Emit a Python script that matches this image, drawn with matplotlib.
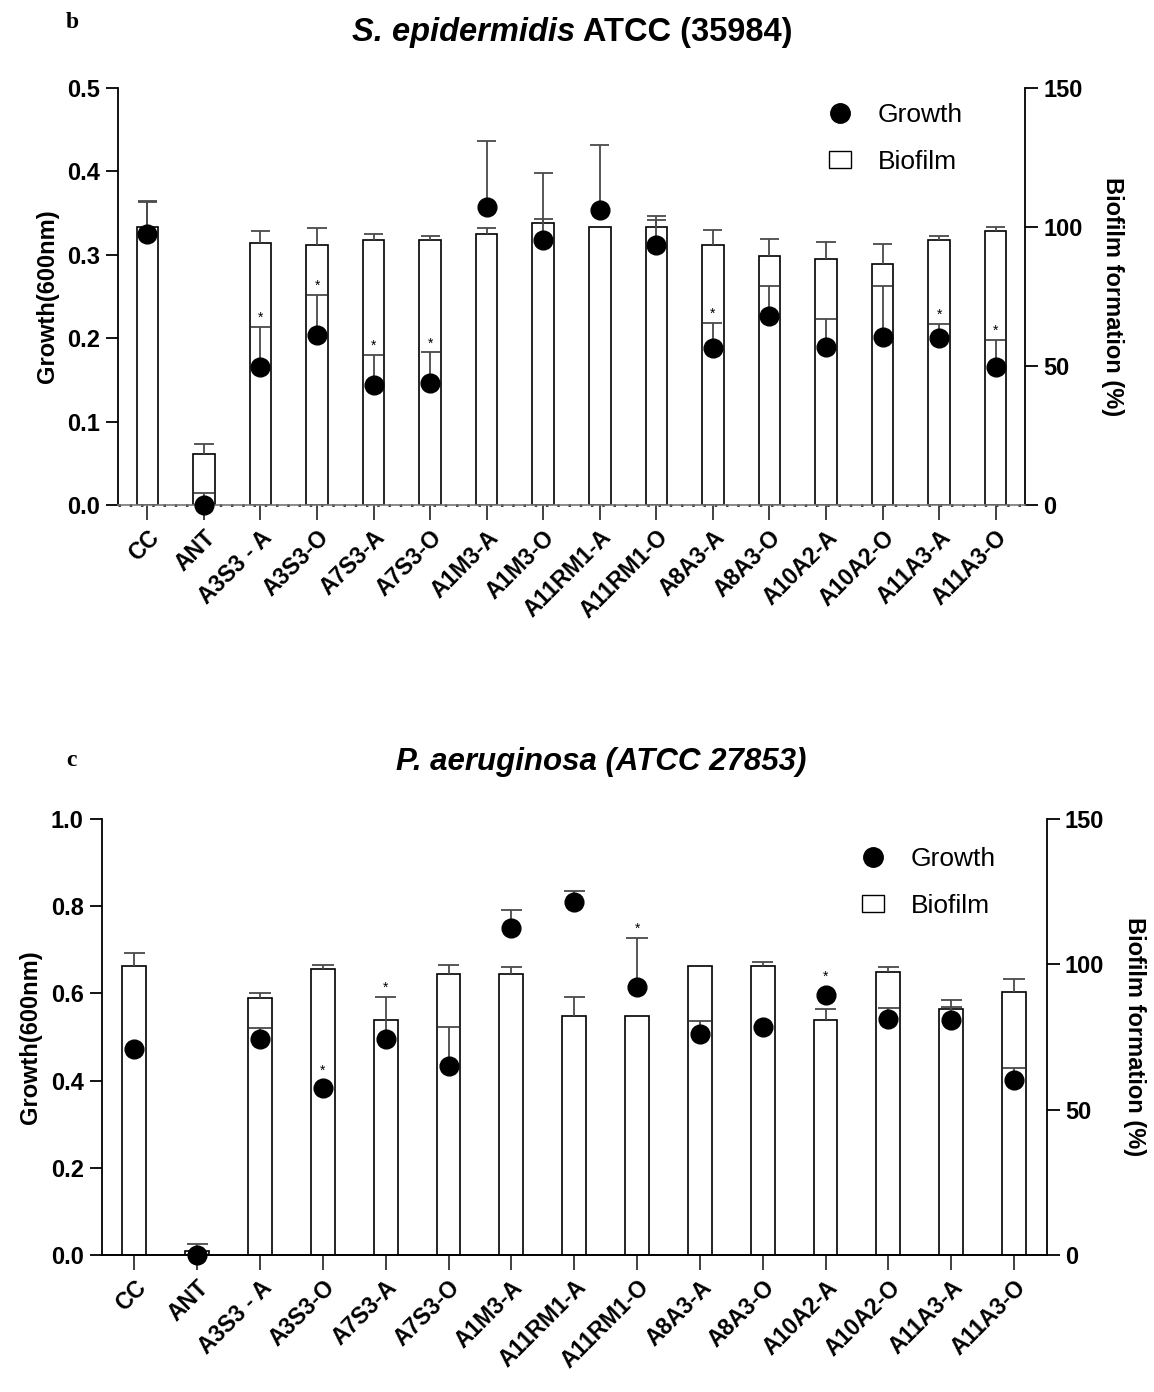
import matplotlib
matplotlib.use('Agg')
import matplotlib.pyplot as plt
import numpy as np
from matplotlib.lines import Line2D
from matplotlib.patches import Patch

plt.rcParams['font.family'] = ['Liberation Sans', 'DejaVu Sans']

# panel b - S. epidermidis ATCC (35984)
labels_b = ['CC', 'ANT', 'A3S3 - A', 'A3S3-O', 'A7S3-A', 'A7S3-O', 'A1M3-A', 'A1M3-O',
            'A11RM1-A', 'A11RM1-O', 'A8A3-A', 'A8A3-O', 'A10A2-A', 'A10A2-O', 'A11A3-A', 'A11A3-O']
growth_b = [0.325, 0.0, 0.165, 0.204, 0.144, 0.146, 0.357, 0.318,
            0.354, 0.312, 0.188, 0.227, 0.190, 0.202, 0.200, 0.166]
growth_err_b = [0.040, 0.014, 0.048, 0.048, 0.036, 0.037, 0.080, 0.080,
                0.078, 0.030, 0.030, 0.035, 0.033, 0.061, 0.017, 0.032]
biofilm_b = [100, 18.3, 94.2, 93.5, 95.3, 95.3, 97.4, 101.6,
             100, 100, 93.5, 89.5, 88.6, 86.7, 95.4, 98.4]
biofilm_err_b = [9, 3.7, 4.3, 6, 2.3, 1.3, 2.4, 1.2,
                 0, 4, 5.3, 6.3, 6.1, 7.2, 1.5, 1.6]
stars_b = [0, 0, 1, 1, 1, 1, 0, 0, 0, 0, 1, 0, 0, 0, 1, 1]

# panel c - P. aeruginosa (ATCC 27853)
labels_c = ['CC', 'ANT', 'A3S3 - A', 'A3S3-O', 'A7S3-A', 'A7S3-O', 'A1M3-A',
            'A11RM1-A', 'A11RM1-O', 'A8A3-A', 'A8A3-O', 'A10A2-A', 'A10A2-O', 'A11A3-A', 'A11A3-O']
growth_c = [0.473, 0.0, 0.495, 0.382, 0.495, 0.433, 0.751,
            0.809, 0.614, 0.507, 0.523, 0.596, 0.541, 0.538, 0.401]
growth_err_c = [0, 0, 0.025, 0, 0.097, 0.090, 0.040,
                0.027, 0.113, 0.029, 0, 0, 0.025, 0.030, 0.029]
biofilm_c = [99.5, 1.5, 88.5, 98.5, 80.8, 96.7, 96.7,
             82.3, 82.3, 99.5, 99.5, 80.7, 97.5, 84.5, 90.6]
biofilm_err_c = [4.4, 2.3, 1.5, 1.4, 0, 3.2, 2.3,
                 6.5, 0, 0, 1.4, 4.1, 1.5, 3.2, 4.2]
stars_c = [0, 0, 0, 1, 1, 0, 0, 0, 1, 0, 0, 1, 0, 0, 0]

W, H = 1154, 1392
fig = plt.figure(figsize=(W / 100, H / 100), dpi=100)
ERR_COLOR = '#4a4a4a'


def upper_err(ax, x, y, err, half=0.17):
    x, y, err = np.asarray(x, float), np.asarray(y, float), np.asarray(err, float)
    m = err > 0
    ax.vlines(x[m], y[m], y[m] + err[m], color=ERR_COLOR, linewidth=1.3, zorder=3)
    ax.hlines(y[m] + err[m], x[m] - half, x[m] + half, color=ERR_COLOR, linewidth=1.3, zorder=3)


def title_parts(cx, y, parts, size):
    # parts: list of (text, style); centred as a whole around cx (pixels)
    r = fig.canvas.get_renderer()
    objs = [fig.text(0, y, t, fontsize=size, fontweight='bold', fontstyle=st, va='center')
            for t, st in parts]
    widths = [o.get_window_extent(r).width for o in objs]
    x0 = cx - sum(widths) / 2
    for o, w in zip(objs, widths):
        o.set_x(x0 / W)
        x0 += w


def panel(rect, labels, growth, gerr, bio, berr, stars, gmax, gticks,
          title, title_pos, title_size, letter, letter_y, leg_xy, dotted):
    ax = fig.add_axes(rect)
    ax2 = ax.twinx()
    x = np.arange(len(labels))
    # biofilm bars on the right axis
    ax2.bar(x, bio, width=0.38, color='white', edgecolor='black', linewidth=1.2, zorder=2)
    upper_err(ax2, x, bio, berr)
    ax2.set_ylim(0, 150)
    ax2.set_yticks([0, 50, 100, 150])
    # growth dots on the left axis
    upper_err(ax, x, growth, gerr)
    ax.plot(x, growth, 'o', color='black', markersize=13.5, zorder=4, clip_on=False)
    for i, s in enumerate(stars):
        if s:
            off = 1.5 if gerr[i] > 0 else 8
            ax.annotate('*', (x[i], growth[i] + gerr[i]), xytext=(0, off),
                        textcoords='offset points', ha='center', va='bottom', fontsize=10)
    ax.set_zorder(ax2.get_zorder() + 1)
    ax.patch.set_visible(False)
    ax.set_xlim(-0.52, len(labels) - 0.48)
    ax.set_ylim(0, gmax)
    ax.set_yticks(gticks)
    ax.set_yticklabels(['{:.1f}'.format(t) for t in gticks])
    ax.set_xticks(x)
    ax.set_xticklabels(labels, rotation=45, ha='right', rotation_mode='anchor')
    for a in (ax, ax2):
        a.spines['top'].set_visible(False)
        a.tick_params(axis='y', width=1.3, length=9, labelsize=17, pad=4)
        for lab in a.get_yticklabels() + a.get_xticklabels():
            lab.set_fontweight('bold')
    ax.tick_params(axis='x', width=1.3, length=11, labelsize=16.5, pad=4, color='#333333')
    ax.spines['right'].set_visible(False)
    ax2.spines['left'].set_visible(False)
    ax2.spines['bottom'].set_visible(False)
    ax.spines['left'].set_linewidth(1.3)
    ax2.spines['right'].set_linewidth(1.3)
    if dotted:
        ax.spines['bottom'].set_color('#777777')
        ax.spines['bottom'].set_linewidth(1.2)
        ax.axhline(0, color='black', linewidth=1.8, linestyle=(0, (1, 3.5)), zorder=1, clip_on=False)
    else:
        ax.spines['bottom'].set_linewidth(1.4)
    ax.set_ylabel('Growth(600nm)', fontsize=17, fontweight='bold', labelpad=6)
    ax2.set_ylabel('Biofilm formation (%)', fontsize=17, fontweight='bold', rotation=270, labelpad=30)
    title_parts(title_pos[0], title_pos[1], title, title_size)
    fig.text(0.057, letter_y, letter, fontsize=17, fontweight='bold', family='Liberation Serif',
             ha='left', va='center')
    handles = [Line2D([], [], marker='o', color='black', linestyle='none', markersize=14),
               Patch(facecolor='white', edgecolor='black', linewidth=1.0)]
    fig.legend(handles, ['Growth', 'Biofilm'], loc='upper left', bbox_to_anchor=leg_xy,
               frameon=False, fontsize=19, handlelength=0.85, handleheight=0.6,
               handletextpad=1.0, labelspacing=0.87, borderpad=0, borderaxespad=0)
    return ax, ax2


panel([118 / W, 1 - 505 / H, (1025 - 118) / W, (505 - 88) / H],
      labels_b, growth_b, growth_err_b, biofilm_b, biofilm_err_b, stars_b,
      0.5, [0.0, 0.1, 0.2, 0.3, 0.4, 0.5],
      [('S. epidermidis', 'italic'), (' ATCC (35984)', 'normal')], (572, 1 - 33 / H), 23.5,
      'b', 1 - 22 / H, (829 / W, 1 - 103 / H), True)

panel([101.7 / W, 1 - 1255 / H, (1046.7 - 101.7) / W, (1255 - 819) / H],
      labels_c, growth_c, growth_err_c, biofilm_c, biofilm_err_c, stars_c,
      1.0, [0.0, 0.2, 0.4, 0.6, 0.8, 1.0],
      [('P. aeruginosa (ATCC 27853)', 'italic')], (601, 1 - 762 / H), 22.5,
      'c', 1 - 760 / H, (862 / W, 1 - 847 / H), False)

fig.savefig('out.png', dpi=100)
